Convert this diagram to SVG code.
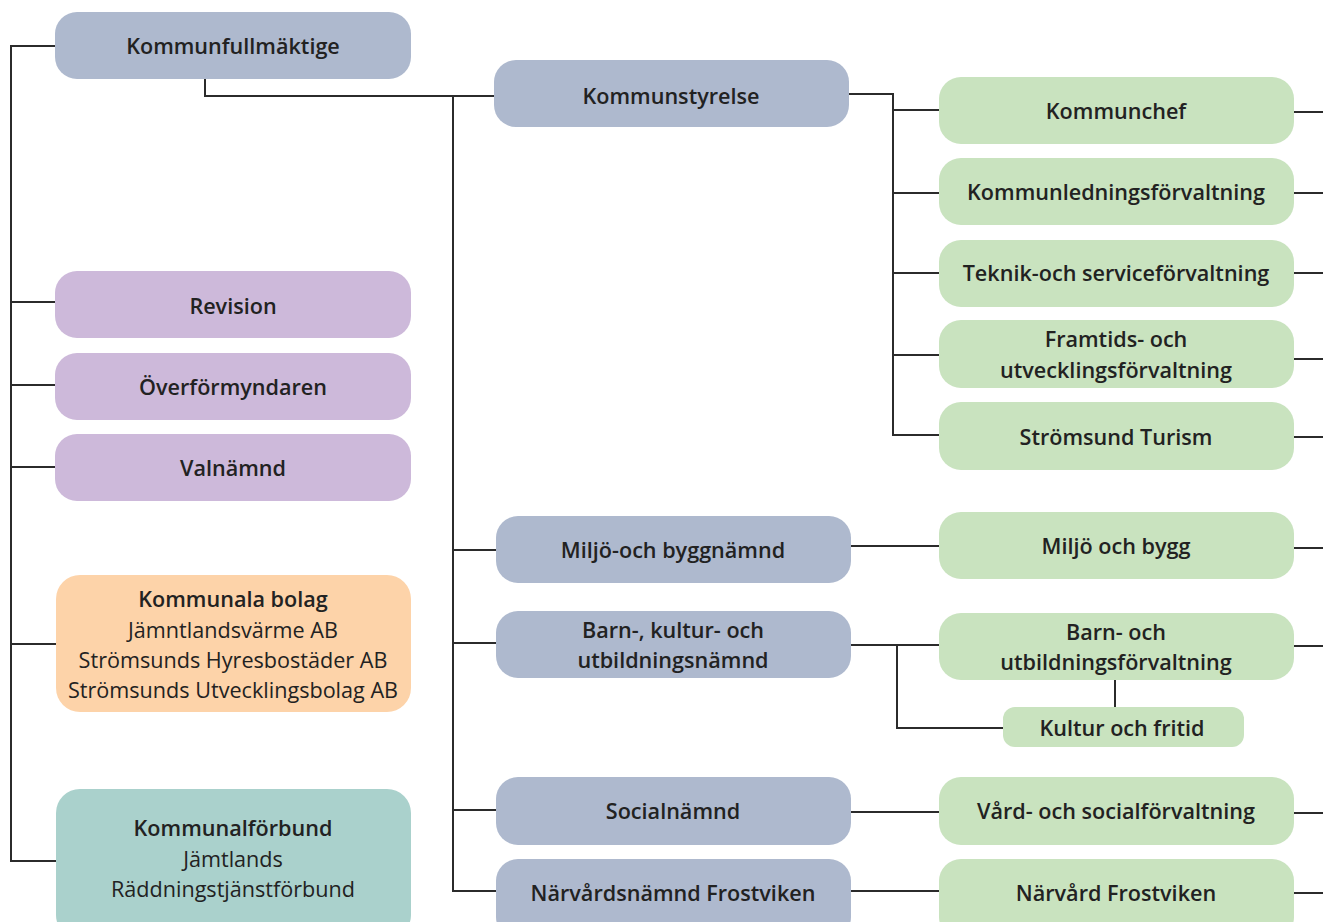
<svg xmlns="http://www.w3.org/2000/svg" width="1323" height="922" viewBox="0 0 1323 922">
<style>
.b{fill:#aeb9ce}.p{fill:#cdb9da}.g{fill:#c9e3bf}.o{fill:#fdd3a9}.t{fill:#aad1cc}
text{font-family:"Open Sans","Liberation Sans",sans-serif;font-size:21.6px;fill:#222;text-anchor:middle}
.s{font-weight:600}.r{font-weight:400}
.c{fill:none;stroke:#2b2b2b;stroke-width:2}
</style>
<rect width="1323" height="922" fill="#fff"/>
<g id="connectors" class="c">
<path d="M55 46H11V861H56"/>
<path d="M11 302H55M11 385H55M11 467H55M11 644H56"/>
<path d="M205 79V96H494"/>
<path d="M453 96V891H496M453 550H496M453 643H496M453 810H496"/>
<path d="M849 94H893V435H939M893 110H939M893 193H939M893 273H939M893 355H939"/>
<path d="M1294 112H1323M1294 193H1323M1294 273H1323M1294 359H1323M1294 437H1323M1294 548H1323M1294 646H1323M1294 813H1323M1294 893H1323"/>
<path d="M851 546H939M851 645H939M897 645V728H1003M1115 680V707"/>
<path d="M851 812H939M851 891H939"/>
</g>
<g id="kommunfullmaktige"><rect class="b" x="55" y="12" width="356" height="67" rx="22"/><text class="s" x="233" y="54">Kommunfullmäktige</text></g>
<g id="revision"><rect class="p" x="55" y="271" width="356" height="67" rx="22"/><text class="s" x="233" y="314">Revision</text></g>
<g id="overformyndaren"><rect class="p" x="55" y="353" width="356" height="67" rx="22"/><text class="s" x="233" y="395">Överförmyndaren</text></g>
<g id="valnamnd"><rect class="p" x="55" y="434" width="356" height="67" rx="22"/><text class="s" x="233" y="476">Valnämnd</text></g>
<g id="bolag"><rect class="o" x="56" y="575" width="355" height="137" rx="24"/>
<text class="s" x="233" y="607">Kommunala bolag</text>
<text class="r" x="233" y="638">Jämntlandsvärme AB</text>
<text class="r" x="233" y="668">Strömsunds Hyresbostäder AB</text>
<text class="r" x="233" y="698">Strömsunds Utvecklingsbolag AB</text></g>
<g id="forbund"><rect class="t" x="56" y="789" width="355" height="150" rx="24"/>
<text class="s" x="233" y="836">Kommunalförbund</text>
<text class="r" x="233" y="867">Jämtlands</text>
<text class="r" x="233" y="897">Räddningstjänstförbund</text></g>
<g id="kommunstyrelse"><rect class="b" x="494" y="60" width="355" height="67" rx="22"/><text class="s" x="671" y="104">Kommunstyrelse</text></g>
<g id="miljonamnd"><rect class="b" x="496" y="516" width="355" height="67" rx="22"/><text class="s" x="673" y="558">Miljö-och byggnämnd</text></g>
<g id="barnnamnd"><rect class="b" x="496" y="611" width="355" height="67" rx="22"/><text class="s" x="673" y="638">Barn-, kultur- och</text><text class="s" x="673" y="668">utbildningsnämnd</text></g>
<g id="socialnamnd"><rect class="b" x="496" y="777" width="355" height="68" rx="22"/><text class="s" x="673" y="819">Socialnämnd</text></g>
<g id="narvardsnamnd"><rect class="b" x="496" y="859" width="355" height="80" rx="22"/><text class="s" x="673" y="901">Närvårdsnämnd Frostviken</text></g>
<g id="kommunchef"><rect class="g" x="939" y="77" width="355" height="67" rx="22"/><text class="s" x="1116" y="119">Kommunchef</text></g>
<g id="kommunledning"><rect class="g" x="939" y="158" width="355" height="67" rx="22"/><text class="s" x="1116" y="200">Kommunledningsförvaltning</text></g>
<g id="teknik"><rect class="g" x="939" y="240" width="355" height="67" rx="22"/><text class="s" x="1116" y="281">Teknik-och serviceförvaltning</text></g>
<g id="framtids"><rect class="g" x="939" y="320" width="355" height="68" rx="22"/><text class="s" x="1116" y="347">Framtids- och</text><text class="s" x="1116" y="378">utvecklingsförvaltning</text></g>
<g id="turism"><rect class="g" x="939" y="402" width="355" height="68" rx="22"/><text class="s" x="1116" y="445">Strömsund Turism</text></g>
<g id="miljobygg"><rect class="g" x="939" y="512" width="355" height="67" rx="22"/><text class="s" x="1116" y="554">Miljö och bygg</text></g>
<g id="barnforv"><rect class="g" x="939" y="613" width="355" height="67" rx="22"/><text class="s" x="1116" y="640">Barn- och</text><text class="s" x="1116" y="670">utbildningsförvaltning</text></g>
<g id="kultur"><rect class="g" x="1003" y="707" width="241" height="40" rx="12"/><text class="s" x="1122" y="736">Kultur och fritid</text></g>
<g id="vard"><rect class="g" x="939" y="777" width="355" height="68" rx="22"/><text class="s" x="1116" y="819">Vård- och socialförvaltning</text></g>
<g id="narvard"><rect class="g" x="939" y="859" width="355" height="80" rx="22"/><text class="s" x="1116" y="901">Närvård Frostviken</text></g>
</svg>
